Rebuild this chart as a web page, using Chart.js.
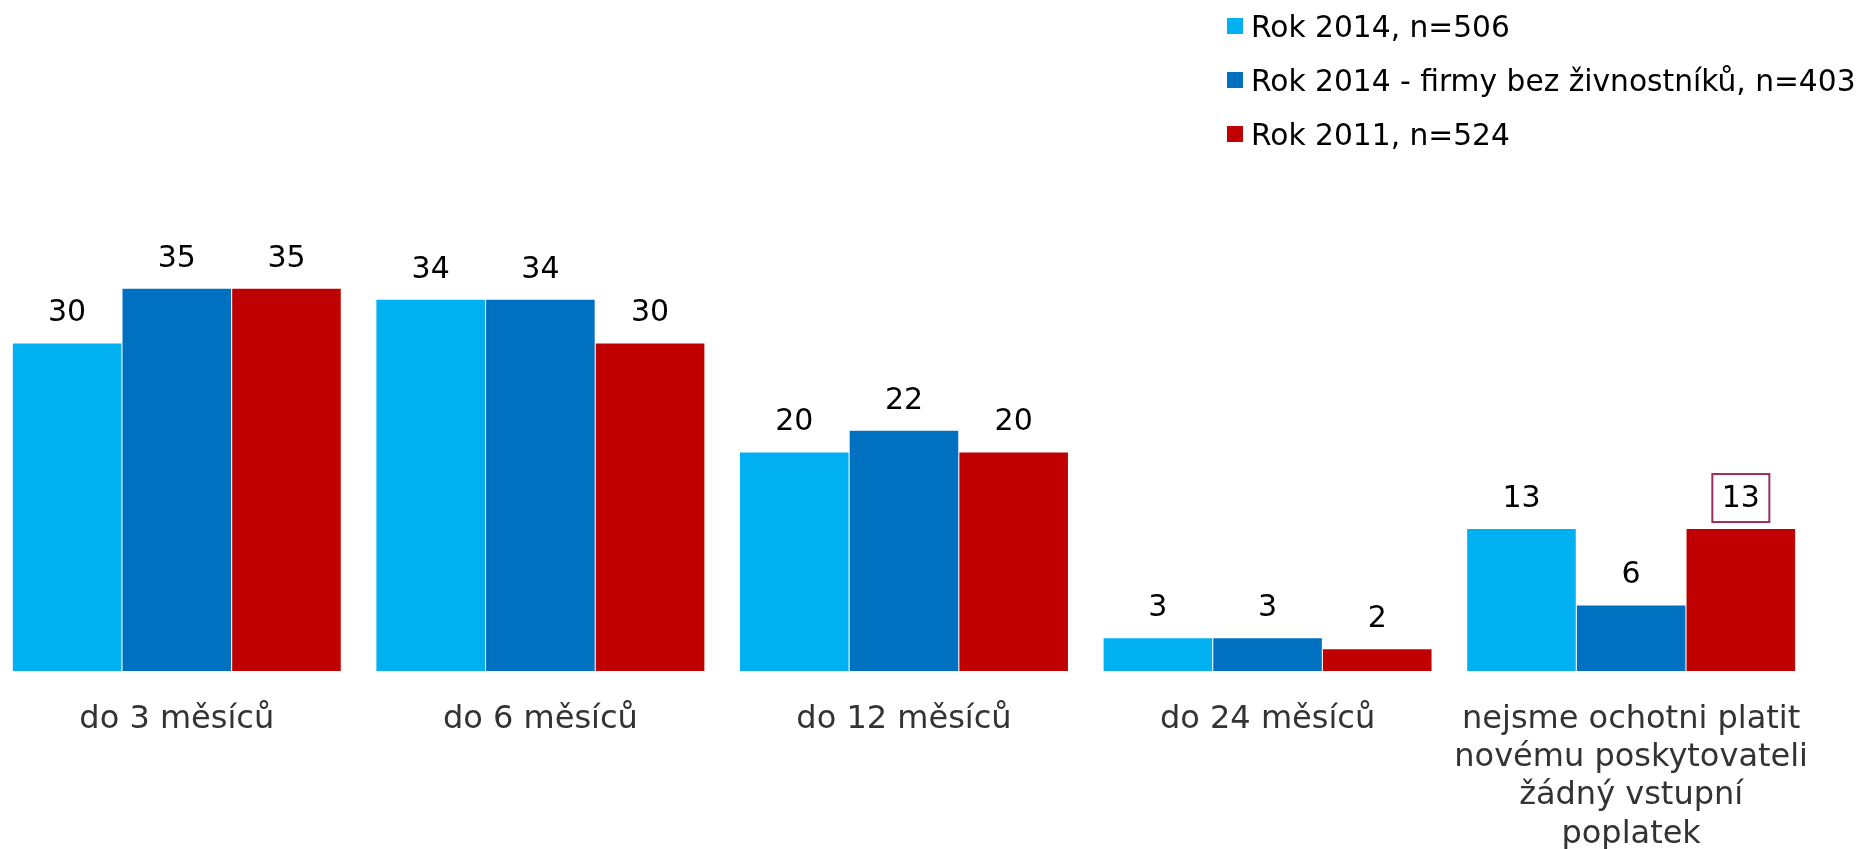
<!DOCTYPE html>
<html lang="cs">
<head>
<meta charset="utf-8">
<title>Ochota platit vstupní poplatek</title>
<script src="https://cdn.jsdelivr.net/npm/chart.js@4/dist/chart.umd.min.js"></script>
<style>
    html, body { margin: 0; padding: 0; background: #fff; }
    body { width: 1862px; height: 849px; position: relative; overflow: hidden; font-family: "DejaVu Sans", Verdana, sans-serif; }
    #chartBox { position: absolute; left: -5px; top: 0; width: 1842px; height: 849px; }
    #legend { position: absolute; left: 1227px; top: -1px; }
    .legend-item { display: flex; align-items: center; height: 54px; font-size: 29.7px; color: #000; white-space: nowrap; }
    .legend-item span.swatch { width: 16px; height: 16px; margin-right: 8px; display: inline-block; }
</style>
</head>
<body>
<div id="chartBox"><canvas id="entryFeeChart"></canvas></div>
<div id="legend"></div>

<script>
// data (percent)
const categories = [
    'do 3 měsíců',
    'do 6 měsíců',
    'do 12 měsíců',
    'do 24 měsíců',
    ['nejsme ochotni platit', 'novému poskytovateli', 'žádný vstupní', 'poplatek']
];
const seriesNames = ['Rok 2014, n=506', 'Rok 2014 - firmy bez živnostníků, n=403', 'Rok 2011, n=524'];
const rok2014 = [30, 34, 20, 3, 13];
const rok2014Firmy = [35, 34, 22, 3, 6];
const rok2011 = [35, 30, 20, 2, 13];
const seriesColors = ['#00B0F0', '#0070C0', '#C00000'];

// the one value label that has a frame around it (dataset, category)
const framedLabel = { dataset: 2, index: 4 };

document.addEventListener('DOMContentLoaded', () => {
    // legend, stacked vertically top right
    const legend = document.getElementById('legend');
    seriesNames.forEach((name, i) => {
        const row = document.createElement('div');
        row.className = 'legend-item';
        row.innerHTML = '<span class="swatch" style="background:' + seriesColors[i] + '"></span>' + name;
        legend.appendChild(row);
    });

    initializeChart();
});

// draws the numbers above each bar
const valueLabels = {
    id: 'valueLabels',
    afterDatasetsDraw(chart) {
        const ctx = chart.ctx;
        ctx.save();
        ctx.font = '30px "DejaVu Sans", Verdana, sans-serif';
        ctx.fillStyle = '#000';
        ctx.textAlign = 'center';
        ctx.textBaseline = 'middle';
        chart.data.datasets.forEach((ds, d) => {
            const meta = chart.getDatasetMeta(d);
            meta.data.forEach((bar, i) => {
                const y = bar.y - 30;
                ctx.fillText(String(ds.data[i]), bar.x, y);
                if (d === framedLabel.dataset && i === framedLabel.index) {
                    ctx.strokeStyle = '#9B2D5E';
                    ctx.lineWidth = 2;
                    ctx.strokeRect(bar.x - 28.5, y - 25, 57, 48);
                }
            });
        });
        ctx.restore();
    }
};

function initializeChart() {
    const ctx = document.getElementById('entryFeeChart').getContext('2d');
    const datasets = [rok2014, rok2014Firmy, rok2011].map((values, i) => ({
        label: seriesNames[i],
        data: values,
        backgroundColor: seriesColors[i],
        borderWidth: 0,
        barPercentage: 0.99,
        categoryPercentage: 0.905
    }));

    new Chart(ctx, {
        type: 'bar',
        data: { labels: categories, datasets: datasets },
        plugins: [valueLabels],
        options: {
            responsive: true,
            maintainAspectRatio: false,
            animation: false,
            layout: { padding: { top: 125, left: 0, right: 0, bottom: 0 } },
            plugins: {
                legend: { display: false },
                tooltip: { enabled: false }
            },
            scales: {
                x: {
                    grid: { display: false, drawTicks: false },
                    border: { display: false },
                    ticks: {
                        color: '#333333',
                        padding: 29,
                        maxRotation: 0,
                        autoSkip: false,
                        font: { family: '"DejaVu Sans", Verdana, sans-serif', size: 32, lineHeight: 1.2 }
                    },
                    afterFit(scale) { scale.height = 178; }
                },
                y: {
                    display: false,
                    min: 0,
                    max: 50
                }
            }
        }
    });
}
</script>
</body>
</html>
